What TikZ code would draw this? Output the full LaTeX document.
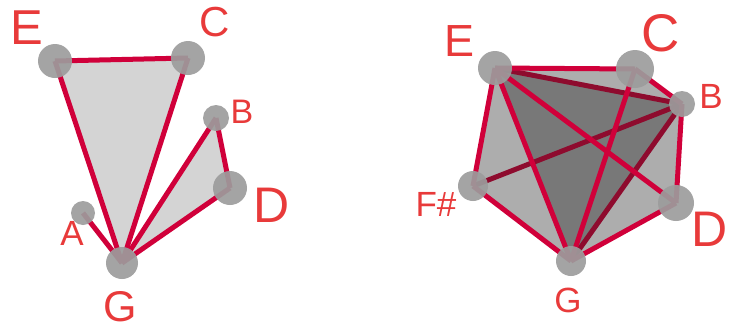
\documentclass[tikz,border=0pt]{standalone}
\usepackage{fontspec}
\setmainfont{Liberation Sans}
\pgfdeclarelayer{bg}
\pgfsetlayers{bg,main}
\definecolor{edgered}{HTML}{D0003A}
\definecolor{darkred}{HTML}{8E0B2E}
\definecolor{lblred}{HTML}{E83A3A}
\definecolor{vgray}{HTML}{9C9C9C}
\definecolor{lightfill}{HTML}{D4D4D4}
\definecolor{midfill}{HTML}{ADADAD}
\definecolor{darkfill}{HTML}{787878}
\begin{document}
\begin{tikzpicture}[x=1pt,y=-1pt,
  vtx/.style={circle,fill=vgray,fill opacity=0.92,inner sep=0pt,minimum size=#1},
  edge/.style={draw=edgered,line width=5pt},
  backedge/.style={draw=darkred,line width=5pt},
  lbl/.style={text=lblred,inner sep=0pt,font=\fontsize{#1}{#1}\selectfont}]
\useasboundingbox (0,0) rectangle (729,330);
% left figure vertices
\node[vtx=34pt] (lE) at (55,61) {};
\node[vtx=34pt] (lC) at (188,58) {};
\node[vtx=26pt] (lB) at (216,118) {};
\node[vtx=34pt] (lD) at (230,188) {};
\node[vtx=24pt] (lA) at (83,213) {};
\node[vtx=32pt] (lG) at (122,263) {};
% right figure vertices
\node[vtx=34pt] (rE) at (495,68) {};
\node[vtx=38pt] (rC) at (635,69) {};
\node[vtx=26pt] (rB) at (682,104) {};
\node[vtx=36pt] (rD) at (676,203) {};
\node[vtx=30pt] (rF) at (473,186) {};
\node[vtx=30pt] (rG) at (571,261) {};
% labels
\node[lbl=49] (tlE) at (27,28) {E};
\node[lbl=42] (tlC) at (215,22) {C};
\node[lbl=34] (tlB) at (242,112) {B};
\node[lbl=50] (tlD) at (272,205) {D};
\node[lbl=35] (tlA) at (72,233) {A};
\node[lbl=43] (tlG) at (120,307) {G};
\node[lbl=45] (trE) at (460,41) {E};
\node[lbl=53] (trC) at (661,33) {C};
\node[lbl=35] (trB) at (711,96) {B};
\node[lbl=50] (trD) at (710,229) {D};
\node[lbl=35] (trF) at (436,204) {F\#};
\node[lbl=35] (trG) at (568,300) {G};
\begin{pgfonlayer}{bg}
  % left fills
  \fill[lightfill] (lE.center) -- (lC.center) -- (lG.center) -- cycle;
  \fill[lightfill] (lB.center) -- (lD.center) -- (lG.center) -- cycle;
  % left edges
  \draw[edge] (lE.center) -- (lC.center);
  \draw[edge] (lE.center) -- (lG.center);
  \draw[edge] (lC.center) -- (lG.center);
  \draw[edge] (lB.center) -- (lG.center);
  \draw[edge] (lB.center) -- (lD.center);
  \draw[edge] (lD.center) -- (lG.center);
  \draw[edge] (lA.center) -- (lG.center);
  % right fills
  \fill[midfill] (rE.center) -- (rC.center) -- (rB.center) -- (rD.center) -- (rG.center) -- (rF.center) -- cycle;
  \fill[darkfill] (rE.center) -- (rB.center) -- (rG.center) -- cycle;
  % right back edges
  \draw[backedge] (rE.center) -- (rB.center);
  \draw[backedge] (rB.center) -- (rF.center);
  \draw[backedge] (rB.center) -- (rG.center);
  % right front edges
  \draw[edge] (rE.center) -- (rC.center);
  \draw[edge] (rC.center) -- (rB.center);
  \draw[edge] (rB.center) -- (rD.center);
  \draw[edge] (rD.center) -- (rG.center);
  \draw[edge] (rG.center) -- (rF.center);
  \draw[edge] (rF.center) -- (rE.center);
  \draw[edge] (rE.center) -- (rG.center);
  \draw[edge] (rE.center) -- (rD.center);
  \draw[edge] (rC.center) -- (rG.center);
\end{pgfonlayer}
\end{tikzpicture}
\end{document}
